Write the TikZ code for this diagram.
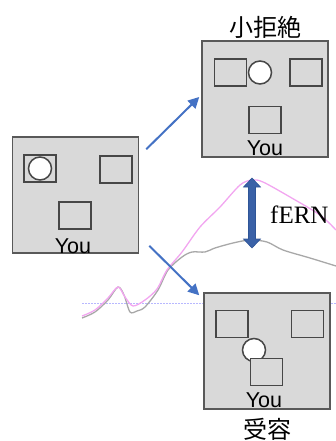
\documentclass[tikz,border=0pt]{standalone}
\usepackage{fontspec}
\setmainfont{Liberation Serif}
\setsansfont{Liberation Sans}
\newfontfamily\jpfont{Noto Sans CJK JP}[Scale=1]
\usetikzlibrary{arrows.meta,calc}
\definecolor{boxfill}{HTML}{D9D9D9}
\definecolor{boxline}{HTML}{595959}
\definecolor{arrblue}{HTML}{4472C4}
\definecolor{fernblue}{HTML}{2F5597}
\definecolor{pinkc}{HTML}{F2A6F0}
\definecolor{grayc}{HTML}{A8A8A8}
\definecolor{lav}{HTML}{B8B8FF}
\tikzset{
  panel/.style={draw=boxline, fill=boxfill, line width=1.5pt, minimum width=126pt, minimum height=116pt, inner sep=0pt},
  sq/.style={draw=boxline!80!black, line width=1.5pt, minimum width=32pt, minimum height=27pt, inner sep=0pt},
  coin/.style={circle, draw=boxline!80!black, fill=white, line width=1.5pt, minimum size=23pt, inner sep=0pt},
  youlbl/.style={font=\sffamily\fontsize{21.5}{21.5}\selectfont, inner sep=0pt, anchor=base},
  jplbl/.style={font=\jpfont\fontsize{24}{24}\selectfont, inner sep=0pt},
  arr/.style={draw=arrblue, line width=2pt, -{Triangle[length=11pt,width=11pt]}},
}
\begin{document}
\begin{tikzpicture}[x=1pt,y=-1pt]
\useasboundingbox (0,0) rectangle (336,441);
% ERP curves
\draw[lav, line width=1pt, dash pattern=on 2pt off 1pt] (82,303) -- (336,303);
\draw[grayc, line width=1.3pt] plot[smooth, tension=0.5] coordinates {(82,318) (95,312) (108,300) (118,287) (124,295) (130,312) (137,311) (145,307) (158,290) (168,270) (182,257) (192,252) (205,252) (215,248) (233,243) (250,240) (267,242) (283,250) (310,258) (336,266)};
\draw[pinkc, line width=1.3pt] plot[smooth, tension=0.5] coordinates {(82,316) (95,310) (108,298) (118,287) (125,297) (133,306) (145,300) (157,289) (167,270) (182,252) (200,227) (220,207) (240,185) (252,180) (263,182) (290,197) (320,215) (336,230)};
% panels
\node[panel] (left) at (75.5,195) {};
\node[sq] (l1) at (40,168.5) {};
\node[coin] (lc) at (40,168.5) {};
\node[sq] (l2) at (116,169.5) {};
\node[sq] (l3) at (75,215.5) {};
\node[youlbl] (ly) at (73,253) {You};

\node[panel] (top) at (265,99) {};
\node[sq] (t1) at (230.5,72.5) {};
\node[coin] (tc) at (260,72.5) {};
\node[sq] (t2) at (306,72.5) {};
\node[sq] (t3) at (265,120) {};
\node[youlbl] (ty) at (265,155) {You};
\node[jplbl] (ttl) at (265,27) {小拒絶};

\node[panel] (bot) at (267,351) {};
\node[sq] (b1) at (232,324) {};
\node[sq] (b2) at (307.5,324) {};
\node[coin] (bc) at (254,350) {};
\node[sq, fill=boxfill] (b3) at (266.5,372) {};
\node[youlbl] (by) at (264,407) {You};
\node[jplbl] (bttl) at (267,429) {受容};

% arrows
\coordinate (s1) at ($(left.north east)+(7,13)$);
\coordinate (e1) at ($(top.west)+(-2,-2)$);
\coordinate (s2) at ($(left.south east)+(10,-8)$);
\coordinate (e2) at ($(bot.north west)+(-4,3)$);
\draw[arr] (s1) -- (e1);
\draw[arr] (s2) -- (e2);
% fERN double arrow
\coordinate (fa) at (252,178);
\coordinate (fb) at (252,248);
\draw[fernblue, fill=arrblue!85!black, line width=0.6pt]
  (fa) -- ++(8.5,9) -- ++(-5,0) |- ($(fb)+(8.5,-9)$) -- (fb) -- ++(-8.5,-9) -- ++(5,0) |- ($(fa)+(-8.5,9)$) -- cycle;
\node[font=\fontsize{25}{25}\selectfont, anchor=west, inner sep=0pt] (fern) at (270,215) {fERN};
\end{tikzpicture}
\end{document}
